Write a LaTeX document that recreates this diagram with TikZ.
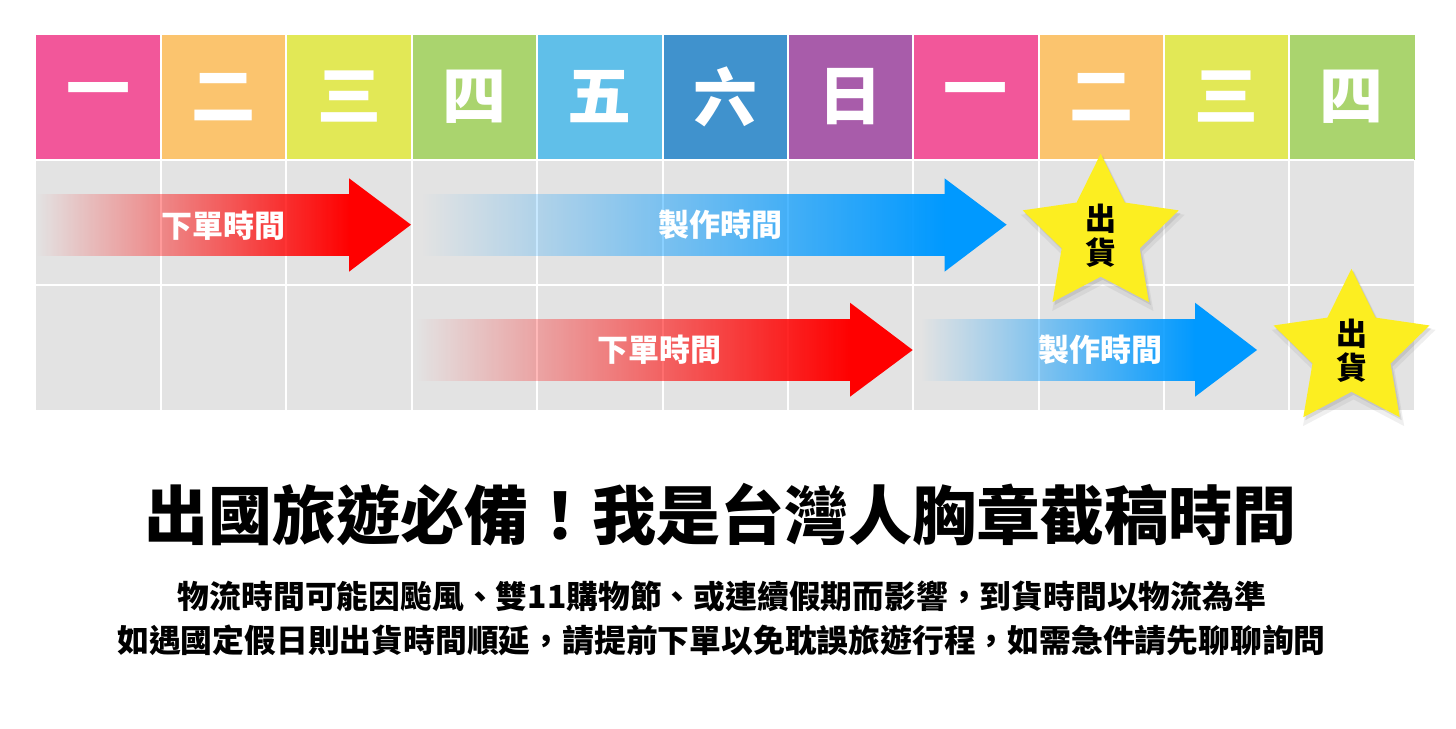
\documentclass[tikz,border=0pt]{standalone}
\usepackage{fontspec}
\setmainfont{Noto Sans CJK TC}
\usetikzlibrary{positioning,shapes.geometric,shadows,fadings}

\definecolor{daypink}{RGB}{242,87,154}
\definecolor{dayorange}{RGB}{251,196,110}
\definecolor{dayyellow}{RGB}{226,232,86}
\definecolor{daygreen}{RGB}{170,212,110}
\definecolor{daysky}{RGB}{96,191,233}
\definecolor{dayblue}{RGB}{64,146,205}
\definecolor{daypurple}{RGB}{168,92,170}
\definecolor{gridgray}{RGB}{227,227,227}
\definecolor{orderred}{RGB}{255,0,0}
\definecolor{makeblue}{RGB}{0,153,255}
\definecolor{staryellow}{RGB}{252,238,33}

\tikzfading[name=fadein, left color=transparent!100, right color=transparent!0]

\tikzset{
  daylabel/.style={text=white, font=\bfseries\fontsize{64}{64}\selectfont},
  armlabel/.style={text=white, font=\bfseries\fontsize{31}{31}\selectfont},
  shipstar/.style={star, star points=5, star point ratio=2, minimum size=164pt,
    inner sep=0pt, fill=staryellow,
    drop shadow={opacity=0.12, shadow scale=1.05, shadow xshift=2pt, shadow yshift=-5pt},
    drop shadow={opacity=0.2, shadow xshift=2pt, shadow yshift=-3pt}},
  shiplabel/.style={align=center, inner sep=0pt, font=\bfseries\fontsize{31}{34}\selectfont},
}

\begin{document}
\begin{tikzpicture}[x=1pt,y=-1pt]
  \useasboundingbox[fill=white] (0,0) rectangle (1456,728);

  % day header
  \foreach \c/\t [count=\i] in {daypink/一,dayorange/二,dayyellow/三,daygreen/四,
      daysky/五,dayblue/六,daypurple/日,daypink/一,dayorange/二,dayyellow/三,daygreen/四}{
    \fill[\c] ({35.7+(\i-1)*125.36},35) rectangle +(125.36,125);
    \node[daylabel] (d\i) at ({35.7+(\i-0.5)*125.36},97) {\t};
  }
  \fill[gridgray] (35.7,160) rectangle (1414,410);
  \foreach \i in {1,...,10}
    \draw[white, line width=2pt] ({35.7+\i*125.36},35) -- ({35.7+\i*125.36},410);
  \draw[white, line width=2pt] (35.7,160) -- (1414,160)
                               (35.7,285) -- (1414,285);

  % arrows, first row
  \fill[orderred, path fading=fadein] (36.7,194) rectangle (350,256);
  \fill[orderred] (349,178.3) -- (411,224.7) -- (349,271.7) -- cycle;
  \fill[makeblue, path fading=fadein] (422.7,194) rectangle (945.5,256);
  \fill[makeblue] (944.5,178.3) -- (1006.6,224.7) -- (944.5,271.7) -- cycle;
  \node[armlabel] (order1) at (223,226) {下單時間};
  \node[armlabel] (make1) at (720,225) {製作時間};

  % arrows, second row
  \fill[orderred, path fading=fadein] (416.7,319) rectangle (851,380.7);
  \fill[orderred] (850,302.7) -- (912.7,350) -- (850,396.7) -- cycle;
  \fill[makeblue, path fading=fadein] (921.4,319) rectangle (1196,380.7);
  \fill[makeblue] (1195,302.7) -- (1257,350) -- (1195,396.7) -- cycle;
  \node[armlabel] (order2) at (659,350) {下單時間};
  \node[armlabel] (make2) at (1100,350) {製作時間};

  % shipping stars
  \node[shipstar] (ship1) at (1100.7,235.7) {};
  \node[shiplabel] (ship1text) at (ship1.center) {出\\貨};
  \node[shipstar] (ship2) at (1351.5,350.8) {};
  \node[shiplabel] (ship2text) at (ship2.center) {出\\貨};

  % text below
  \node[font=\bfseries\fontsize{64}{64}\selectfont] (title) at (720,515)
    {出國旅遊必備！我是台灣人胸章截稿時間};
  \node[font=\bfseries\fontsize{31.8}{32}\selectfont] (note1) at (722,596)
    {物流時間可能因颱風、雙11購物節、或連續假期而影響，到貨時間以物流為準};
  \node[font=\bfseries\fontsize{31.8}{32}\selectfont] (note2) at (721.5,640)
    {如遇國定假日則出貨時間順延，請提前下單以免耽誤旅遊行程，如需急件請先聊聊詢問};
\end{tikzpicture}
\end{document}
